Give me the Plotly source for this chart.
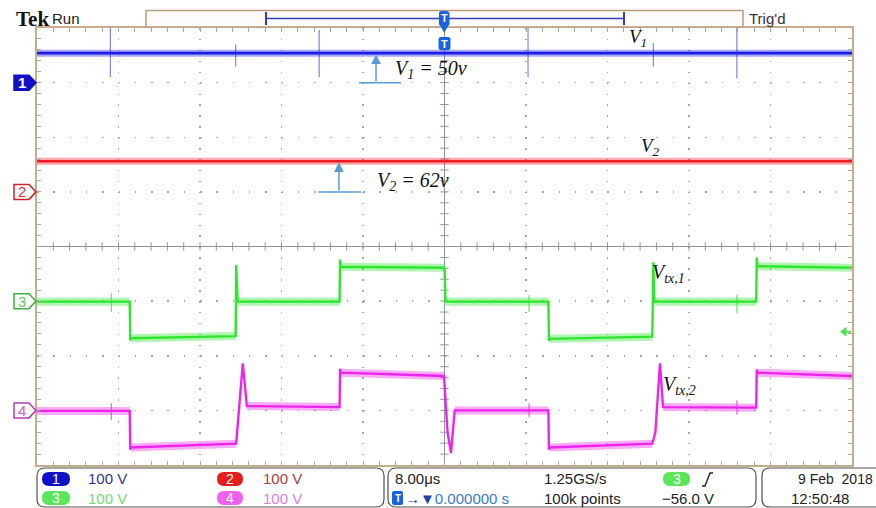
import plotly.graph_objects as go

# ---------------- data ----------------
TIME_RANGE_US = [-40, 40]          # 8.00 us/div, trigger at centre
VOLTS_PER_DIV = [100, 100, 100, 100]
CH_GROUND_DIV = [3, 1, -1, -3]     # ground markers 1..4, divisions from centre
CH_COLORS = ["#1c1ce6", "#ee1c24", "#2ee62e", "#ec24ec"]
TRIGGER_LEVEL_V = -56.0            # trigger on CH3

# CH1 : V1 (flat DC level with switching needles)
v1_level_v = 54
v1_spike_t = [-32.8, -20.5, -12.3, 8.2, 20.5, 28.7]
v1_spike_hi = [100, 70, 97, 100, 72, 100]
v1_spike_lo = [10, 29, 10, 10, 29, 8]

# CH2 : V2
v2_level_v = 56

# CH3 : Vtx,1  plateaus (start/end time, start/end volts) and edge points
g_t0 = [-40, -30.8, -20.3, -10.2, 0.1, 10.3, 20.6, 30.7]
g_t1 = [-30.9, -20.5, -10.3, 0.0, 10.2, 20.4, 30.6, 40]
g_v0 = [-1, -68, -1, 63, -1, -69, -1, 64]
g_v1 = [-1, -64, -1, 61, -1, -65, -1, 61]
g_edge_t = [[-30.85], [-20.45], [-10.25], [0.05], [10.25], [20.5], [30.65]]
g_edge_v = [[-72], [66], [76], [4], [-73], [71], [80]]
g_glitch_t = [-32.7, 8.3, 28.7]
g_glitch_hi = [15, 11, 11]
g_glitch_lo = [-20, -20, -22]

# CH4 : Vtx,2
m_t0 = [-40, -30.8, -19.4, -10.2, 1.0, 10.3, 21.45, 30.7]
m_t1 = [-30.9, -20.45, -10.3, -0.05, 10.2, 20.4, 30.6, 40]
m_v0 = [-1, -68, 8, 69, 0, -68, 6, 69]
m_v1 = [-1, -61, 6, 63, 0, -61, 5, 63]
m_edge_t = [[-30.85], [-20.35, -19.8], [-10.25], [0.3, 0.64], [10.25], [20.7, 21.15], [30.65]]
m_edge_v = [[-72], [-36, 86], [76], [-40, -78], [-72], [-40, 86], [75]]
m_glitch_t = [-32.7, 8.3, 28.7]
m_glitch_hi = [13, 13, 18]
m_glitch_lo = [-18, -12, -8]

# annotation arrows (time of arrow, base span)
v1_arrow_t, v1_base_t = -6.72, [-8.39, -4.27]
v2_arrow_t, v2_base_t = -10.36, [-12.42, -8.19]

# ---------------- layout helpers ----------------
W, H = 876, 508
L, R, T, B = 37, 852, 28, 465


def px(x):
    return (x - L) / (R - L)


def py(y):
    return (B - y) / (B - T)


def rgba(hexc, a):
    h = hexc.lstrip("#")
    return "rgba(%d,%d,%d,%.2f)" % (int(h[0:2], 16), int(h[2:4], 16), int(h[4:6], 16), a)


def rrect(x0, y0, x1, y1, r):
    pts = [("M", x0 + r, y0), ("L", x1 - r, y0), ("Q", x1, y0, x1, y0 + r),
           ("L", x1, y1 - r), ("Q", x1, y1, x1 - r, y1), ("L", x0 + r, y1),
           ("Q", x0, y1, x0, y1 - r), ("L", x0, y0 + r), ("Q", x0, y0, x0 + r, y0)]
    s = ""
    for p in pts:
        if p[0] == "Q":
            s += "Q%.5f,%.5f %.5f,%.5f " % (px(p[1]), py(p[2]), px(p[3]), py(p[4]))
        else:
            s += "%s%.5f,%.5f " % (p[0], px(p[1]), py(p[2]))
    return s + "Z"


def band_xy(t0s, t1s, v0s, v1s):
    x, y = [], []
    for a, b, c, d in zip(t0s, t1s, v0s, v1s):
        x += [a, b, None]
        y += [c, d, None]
    return x, y


def core_xy(t0s, t1s, v0s, v1s, et, ev):
    x, y = [], []
    for k in range(len(t0s)):
        x += [t0s[k], t1s[k]]
        y += [v0s[k], v1s[k]]
        if k < len(et):
            x += et[k]
            y += ev[k]
    return x, y


def needles(ts, his, los):
    x, y = [], []
    for t, h, l in zip(ts, his, los):
        x += [t, t, None]
        y += [h, l, None]
    return x, y


fig = go.Figure()
yax = ["y2", "y3", "y4", "y5"]


def add_band(x, y, ch, wband, wcore, xcore=None, ycore=None):
    c = CH_COLORS[ch]
    fig.add_trace(go.Scatter(x=x, y=y, yaxis=yax[ch], mode="lines",
                             line=dict(color=rgba(c, 0.38), width=wband), hoverinfo="skip"))
    if xcore is None:
        xcore, ycore = x, y
    fig.add_trace(go.Scatter(x=xcore, y=ycore, yaxis=yax[ch], mode="lines",
                             line=dict(color=c, width=wcore), hoverinfo="skip"))


def add_needles(x, y, ch, alpha, w):
    fig.add_trace(go.Scatter(x=x, y=y, yaxis=yax[ch], mode="lines",
                             line=dict(color=rgba(CH_COLORS[ch], alpha), width=w), hoverinfo="skip"))


# graticule centre-line ticks (one tiny tick every 1/5 division) on the main axes
cx_ticks = [TIME_RANGE_US[0] + k * 1.6 for k in range(1, 50)]
cy_ticks = [-4 + k * 0.2 for k in range(1, 40)]
fig.add_trace(go.Scatter(x=cx_ticks, y=[0] * len(cx_ticks), mode="markers", hoverinfo="skip",
                         marker=dict(symbol="line-ns", size=6, line=dict(color="#8f95a6", width=1))))
fig.add_trace(go.Scatter(x=[0] * len(cy_ticks), y=cy_ticks, mode="markers", hoverinfo="skip",
                         marker=dict(symbol="line-ew", size=6, line=dict(color="#8f95a6", width=1))))

# CH1
sx, sy = needles(v1_spike_t, v1_spike_hi, v1_spike_lo)
add_needles(sx, sy, 0, 0.55, 1.2)
add_band(TIME_RANGE_US, [v1_level_v, v1_level_v], 0, 7, 2.6)
# CH2
add_band(TIME_RANGE_US, [v2_level_v, v2_level_v], 1, 7, 2.6)
# CH3
bx, by = band_xy(g_t0, g_t1, g_v0, g_v1)
cx, cy = core_xy(g_t0, g_t1, g_v0, g_v1, g_edge_t, g_edge_v)
gx, gy = needles(g_glitch_t, g_glitch_hi, g_glitch_lo)
add_needles(gx, gy, 2, 0.7, 1.3)
add_band(bx, by, 2, 8, 2.4, cx, cy)
# CH4
bx, by = band_xy(m_t0, m_t1, m_v0, m_v1)
cx, cy = core_xy(m_t0, m_t1, m_v0, m_v1, m_edge_t, m_edge_v)
mx, my = needles(m_glitch_t, m_glitch_hi, m_glitch_lo)
add_needles(mx, my, 3, 0.7, 1.3)
add_band(bx, by, 3, 8, 2.4, cx, cy)

# ---------------- axes ----------------
GRID = "#a6a6a6"
CENTRE = "#8f95a6"
BORDER = "#c8ab8a"
common = dict(showticklabels=False, fixedrange=True, showgrid=True, gridcolor=GRID, gridwidth=1.5,
              zeroline=True, zerolinecolor=CENTRE, zerolinewidth=1.5, showline=True, linecolor=BORDER,
              linewidth=2, mirror="allticks", ticks="inside", ticklen=4, tickcolor="#a8a8a8")
layout = dict(
    width=W, height=H, margin=dict(l=L, r=W - R, t=T, b=H - B),
    paper_bgcolor="white", plot_bgcolor="white", showlegend=False,
    xaxis=dict(range=TIME_RANGE_US, dtick=8, tick0=0, griddash="1.5px,9.42px",
               minor=dict(dtick=1.6, ticks="inside", ticklen=4, tickcolor="#a8a8a8"), **common),
    yaxis=dict(range=[-4, 4], dtick=1, tick0=0, griddash="1.5px,14.8px",
               minor=dict(dtick=0.2, ticks="inside", ticklen=4, tickcolor="#a8a8a8"), **common),
)
for i, g in enumerate(CH_GROUND_DIV):
    v = VOLTS_PER_DIV[i]
    layout["yaxis%d" % (i + 2)] = dict(overlaying="y", visible=False, fixedrange=True,
                                       range=[(-4 - g) * v, (4 - g) * v])
fig.update_layout(**layout)

shapes = []
ann = []
SANS = "Liberation Sans"
SERIF = "Liberation Serif"


def text(x, y, s, size=15, color="#222", family=SANS, xanchor="left", **kw):
    ann.append(dict(x=px(x), y=py(y), xref="paper", yref="paper", text=s, showarrow=False,
                    xanchor=xanchor, yanchor="middle", font=dict(family=family, size=size, color=color), **kw))


# top header
text(14, 19, "<b>Tek</b>", size=21, color="#111", family=SERIF)
text(50, 19, "Run", size=15, color="#222")
text(747, 19, "Trig'd", size=15, color="#333")
shapes.append(dict(type="rect", xref="paper", yref="paper", x0=px(146), x1=px(743), y0=py(10.5), y1=py(27),
                   line=dict(color="#bb9c7c", width=1.5), fillcolor="#fdfbf9", layer="above"))
shapes.append(dict(type="line", xref="paper", yref="paper", x0=px(266), x1=px(624), y0=py(18.5), y1=py(18.5),
                   line=dict(color="#3040c0", width=1.6), layer="above"))
for xx in (266, 624):
    shapes.append(dict(type="line", xref="paper", yref="paper", x0=px(xx), x1=px(xx), y0=py(12), y1=py(25),
                       line=dict(color="#3040c0", width=2), layer="above"))
TBLUE = "#1662e0"
shapes.append(dict(type="path", xref="paper", yref="paper", path=rrect(439, 11, 449.5, 26, 2.5),
                   fillcolor=TBLUE, line=dict(width=0), layer="above"))
shapes.append(dict(type="path", xref="paper", yref="paper",
                   path="M%.5f,%.5f L%.5f,%.5f L%.5f,%.5f Z" % (px(440), py(25), px(448.5), py(25), px(444.3), py(33)),
                   fillcolor=TBLUE, line=dict(width=0), layer="above"))
shapes.append(dict(type="path", xref="paper", yref="paper", path=rrect(438.5, 37, 450.5, 50, 2.5),
                   fillcolor=TBLUE, line=dict(width=0), layer="above"))
text(444.3, 18.5, "<b>T</b>", size=11, color="white", xanchor="center")
text(444.5, 43.5, "<b>T</b>", size=11, color="white", xanchor="center")

# channel ground markers
for i in range(4):
    fill = "#1010c8" if i == 0 else "white"
    edge = {0: "#1010c8", 1: "#d42020", 2: "#3cb43c", 3: "#b63cb6"}[i]
    shapes.append(dict(type="path", xref="paper", yref=yax[i], ysizemode="pixel", yanchor=0,
                       path="M%.5f,-7.5 L%.5f,-7.5 L%.5f,0 L%.5f,7.5 L%.5f,7.5 Z" % (px(14), px(29), px(36), px(29), px(14)),
                       fillcolor=fill, line=dict(color=edge, width=1.5), layer="above"))
    ann.append(dict(x=px(22), y=0, xref="paper", yref=yax[i], text="<b>%d</b>" % (i + 1) if i == 0 else "%d" % (i + 1),
                    showarrow=False, xanchor="center", yanchor="middle",
                    font=dict(family=SANS, size=15, color="white" if i == 0 else {1: "#e03030", 2: "#5ccc5c", 3: "#d060d0"}[i])))

# trigger level arrow (CH3)
shapes.append(dict(type="path", xref="paper", yref="y4", ysizemode="pixel", yanchor=TRIGGER_LEVEL_V,
                   path="M%.5f,0 L%.5f,5 L%.5f,-5 Z" % (px(840), px(846.5), px(846.5)),
                   fillcolor="#4ee04e", line=dict(width=0), layer="above"))
shapes.append(dict(type="line", xref="paper", yref="y4", ysizemode="pixel", yanchor=TRIGGER_LEVEL_V,
                   x0=px(845), x1=px(851), y0=0, y1=0, line=dict(color="#4ee04e", width=2), layer="above"))

# value arrows
ARC = "#5b9bd5"
for t, base, lvl, ya in ((v1_arrow_t, v1_base_t, v1_level_v, "y2"), (v2_arrow_t, v2_base_t, v2_level_v, "y3")):
    ann.append(dict(x=t, y=lvl, xref="x", yref=ya, ax=t, ay=0, axref="x", ayref=ya, text="",
                    showarrow=True, arrowhead=2, arrowsize=1.3, arrowwidth=1.5, arrowcolor=ARC, standoff=1))
    shapes.append(dict(type="line", xref="x", yref=ya, x0=base[0], x1=base[1], y0=0, y1=0,
                       line=dict(color=ARC, width=1.5), layer="above"))

# italic labels
text(627, 38, "<i>V<sub>1</sub></i>", size=19, color="#111", family=SERIF)
text(393, 69, "<i>V<sub>1</sub> = 50v</i>", size=20, color="#111", family=SERIF)
text(639, 147, "<i>V<sub>2</sub></i>", size=19, color="#111", family=SERIF)
text(375, 181, "<i>V<sub>2</sub> = 62v</i>", size=20, color="#111", family=SERIF)
text(650, 273, "<i>V<sub>tx,1</sub></i>", size=20, color="#111", family=SERIF)
text(661, 385, "<i>V<sub>tx,2</sub></i>", size=20, color="#111", family=SERIF)

# bottom status boxes
BOX = "#505050"
for (x0, x1) in ((37, 384), (388, 756), (762, 900)):
    shapes.append(dict(type="path", xref="paper", yref="paper", path=rrect(x0, 468, x1, 507, 8),
                       line=dict(color=BOX, width=1.2), fillcolor="rgba(0,0,0,0)", layer="above"))
R1, R2 = 479, 498
badges = [(42, 70, R1, "#1010c8", "1"), (217, 243, R1, "#e41c1c", "2"),
          (42, 70, R2, "#5ae65a", "3"), (217, 243, R2, "#f060f0", "4"),
          (663, 690, R1, "#5ae65a", "3")]
for x0, x1, yc, col, lab in badges:
    shapes.append(dict(type="path", xref="paper", yref="paper", path=rrect(x0, yc - 7, x1, yc + 7, 7),
                       fillcolor=col, line=dict(width=0), layer="above"))
    text((x0 + x1) / 2, yc, lab, size=14, color="white", xanchor="center")
text(86, R1, "100 V", color="#34349a")
text(261, R1, "100 V", color="#b03c3c")
text(86, R2, "100 V", color="#74d874")
text(261, R2, "100 V", color="#e07ce0")
text(393, R1, "8.00\u03bcs", color="#222")
text(542, R1, "1.25GS/s", color="#222")
shapes.append(dict(type="path", xref="paper", yref="paper",
                   path="M%.5f,%.5f L%.5f,%.5f L%.5f,%.5f L%.5f,%.5f" % (px(702), py(486), px(705), py(486),
                                                                      px(710), py(473), px(713), py(473)),
                   line=dict(color="#222", width=1.4), layer="above"))
text(796, R1, "9 Feb\u00a0\u00a02018", size=14, color="#222")
shapes.append(dict(type="path", xref="paper", yref="paper", path=rrect(392, R2 - 7, 403, R2 + 7, 2),
                   fillcolor=TBLUE, line=dict(width=0), layer="above"))
text(397.5, R2, "<b>T</b>", size=10, color="white", xanchor="center")
text(403, R2, "<span style='color:#1d3fa8'>\u2192\u25bc</span>0.000000 s", color="#3a7ad0")
text(542, R2, "100k points", color="#222")
text(660, R2, "\u221256.0 V", color="#222")
text(789, R2, "12:50:48", color="#222")

fig.update_layout(shapes=shapes, annotations=ann)
fig.write_html("out.html", config={"displayModeBar": False, "staticPlot": True},
               post_script="document.body.style.margin='0';")
